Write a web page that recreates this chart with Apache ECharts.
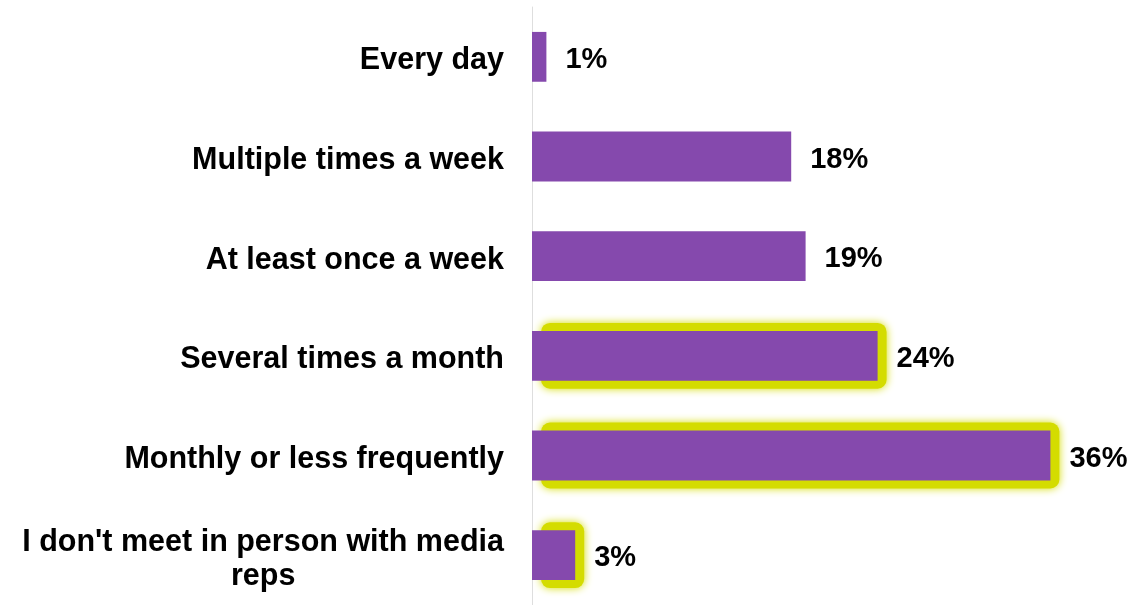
<!DOCTYPE html>
<html>
<head>
<meta charset="utf-8">
<script src="https://cdn.jsdelivr.net/npm/echarts@6/dist/echarts.min.js"></script>
<style>
  html, body { margin: 0; padding: 0; background: #ffffff; }
  #chart { width: 1134px; height: 605px; }
</style>
</head>
<body>
<div id="chart"></div>
<script>
// How often respondents meet in person with media reps (share of respondents, %)
const categories = [
  'Every day',
  'Multiple times a week',
  'At least once a week',
  'Several times a month',
  'Monthly or less frequently',
  "I don't meet in person with media reps"
];
const values = [1, 18, 19, 24, 36, 3];
// Answers drawn with a yellow glow behind the bar
const highlighted = [false, false, false, true, true, true];

const BAR_COLOR = '#8549ad';
const GLOW_COLOR = '#d4dc00';
const FONT = '"Liberation Sans", Arial, sans-serif';

const glowData = values
  .map((v, i) => (highlighted[i] ? [v, i] : null))
  .filter(d => d !== null);

const chart = echarts.init(document.getElementById('chart'), null, { renderer: 'canvas' });

chart.setOption({
  animation: false,
  backgroundColor: '#ffffff',
  grid: { left: 532, right: 26, top: 7, height: 602, containLabel: false },
  xAxis: {
    type: 'value',
    min: 0,
    max: 40,
    show: false
  },
  yAxis: {
    type: 'category',
    data: categories,
    inverse: true,
    axisLine: { show: true, lineStyle: { color: '#dedede', width: 1 } },
    axisTick: { show: false },
    splitLine: { show: false },
    axisLabel: {
      margin: 28,
      padding: [8, 0, 0, 0],
      color: '#000000',
      fontFamily: FONT,
      fontSize: 30.5,
      fontWeight: 'bold',
      lineHeight: 34,
      formatter: function (val) {
        const wrapped = val === "I don't meet in person with media reps"
          ? "I don't meet in person with media\nreps"
          : val;
        return wrapped.split('\n').map(l => '{c|' + l + '}').join('\n');
      },
      rich: {
        c: {
          align: 'center',
          color: '#000000',
          fontFamily: FONT,
          fontSize: 30.5,
          fontWeight: 'bold',
          lineHeight: 34
        }
      }
    }
  },
  series: [
    {
      // yellow glow drawn behind selected bars
      type: 'custom',
      z: 1,
      silent: true,
      encode: { x: 0, y: 1 },
      data: glowData,
      renderItem: function (params, api) {
        const cat = api.value(1);
        const v = api.value(0);
        const start = api.coord([0, cat]);
        const end = api.coord([v, cat]);
        const bandH = api.size([0, 1])[1];
        const barH = bandH * 0.5;
        const pad = 8;
        const shift = 9;
        return {
          type: 'rect',
          shape: {
            x: start[0] + shift,
            y: start[1] - barH / 2 - pad,
            width: end[0] - start[0],
            height: barH + pad * 2,
            r: 9
          },
          style: {
            fill: GLOW_COLOR,
            shadowBlur: 8,
            shadowColor: GLOW_COLOR
          }
        };
      }
    },
    {
      type: 'bar',
      z: 2,
      data: values,
      barWidth: '50%',
      itemStyle: { color: BAR_COLOR },
      label: {
        show: true,
        position: 'right',
        distance: 19,
        offset: [0, 3],
        formatter: '{c}%',
        color: '#000000',
        fontFamily: FONT,
        fontSize: 29,
        fontWeight: 'bold'
      }
    }
  ]
});
</script>
</body>
</html>
